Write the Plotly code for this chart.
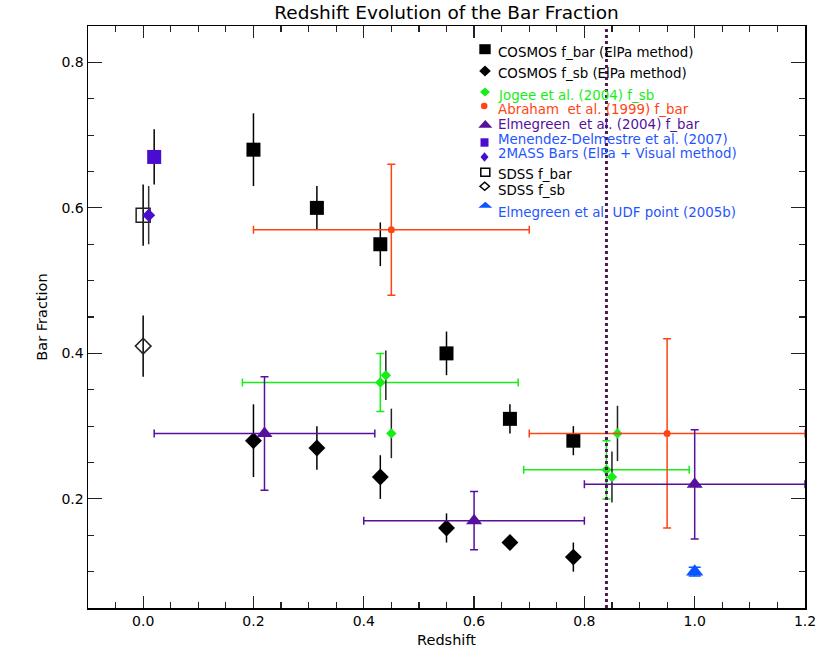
import plotly.graph_objects as go

# ---------------- data ----------------
cosmos_z = [0.20, 0.315, 0.43, 0.55, 0.665, 0.78]
cosmos_fbar = [0.68, 0.60, 0.55, 0.40, 0.31, 0.28]
cosmos_fbar_err = [0.05, 0.03, 0.03, 0.03, 0.02, 0.02]
cosmos_fsb = [0.28, 0.27, 0.23, 0.16, 0.14, 0.12]
cosmos_fsb_err = [0.05, 0.03, 0.03, 0.02, 0.01, 0.02]

jogee_z = [0.43, 0.84]
jogee_fsb = [0.36, 0.24]
jogee_zerr = [0.25, 0.15]
jogee_err = [0.04, 0.04]

jogee2_z = [0.44, 0.45, 0.85, 0.86]
jogee2_fsb = [0.37, 0.29, 0.23, 0.29]
jogee2_err = [0.034, 0.034, 0.035, 0.038]

abraham_z = [0.45, 0.95]
abraham_fbar = [0.57, 0.29]
abraham_zerr = [0.25, 0.25]
abraham_err = [0.09, 0.13]

elm_z = [0.22, 0.60, 1.00]
elm_fbar = [0.29, 0.17, 0.22]
elm_zerr = [0.20, 0.20, 0.20]
elm_err = [0.078, 0.04, 0.075]

menendez_z = [0.02]
menendez_fbar = [0.67]
menendez_err = [0.038]

twomass_z = [0.01]
twomass_fsb = [0.59]
twomass_err = [0.04]

sdss_z = [0.0]
sdss_fbar = [0.59]
sdss_fbar_err = [0.042]
sdss_fsb = [0.41]
sdss_fsb_err = [0.042]

udf_z = [1.0]
udf_fbar = [0.10]
udf_err = [0.006]

z_cut = 0.84

x_ticks = [0.0, 0.2, 0.4, 0.6, 0.8, 1.0, 1.2]
y_ticks = [0.2, 0.4, 0.6, 0.8]

# ---------------- colours ----------------
GREEN = "#16ee16"
ORANGE = "#ff4414"
PURPLE = "#56109c"
VIOLET = "#4a0ccf"
BLUE = "#1f55ff"
UDFBLUE = "#0b55ff"
DOTC = "#4d1a50"

FONT = "DejaVu Sans"

# ---------------- layout geometry (px) ----------------
W, H = 830, 664
L, R, T, B = 88, 25, 26, 56
PW, PH = W - L - R, H - T - B


def px(xp):
    return (xp - L) / PW


def py(yp):
    return (H - B - yp) / PH


fig = go.Figure()


def err(arr, color, cap=0, width=1.5):
    return dict(type="data", array=arr, color=color, thickness=width, width=cap, visible=True)


fig.add_trace(go.Scatter(
    x=cosmos_z, y=cosmos_fbar, mode="markers",
    marker=dict(symbol="square", size=14, color="black", line=dict(width=0)),
    error_y=err(cosmos_fbar_err, "black"), name="COSMOS f_bar (ElPa method)"))
fig.add_trace(go.Scatter(
    x=cosmos_z, y=cosmos_fsb, mode="markers",
    marker=dict(symbol="diamond", size=13, color="black", line=dict(width=0)),
    error_y=err(cosmos_fsb_err, "black"), name="COSMOS f_sb (ElPa method)"))

fig.add_trace(go.Scatter(
    x=jogee_z, y=jogee_fsb, mode="markers",
    marker=dict(symbol="diamond", size=8, color=GREEN, line=dict(width=0)),
    error_y=err(jogee_err, GREEN, cap=4), error_x=err(jogee_zerr, GREEN, cap=4),
    name="Jogee et al. (2004) f_sb"))
fig.add_trace(go.Scatter(
    x=jogee2_z, y=jogee2_fsb, mode="markers",
    marker=dict(symbol="diamond", size=8, color=GREEN, line=dict(width=0)),
    error_y=err(jogee2_err, "#222222"), name="Jogee et al. (2004) f_sb (2)"))

fig.add_trace(go.Scatter(
    x=abraham_z, y=abraham_fbar, mode="markers",
    marker=dict(symbol="circle", size=7, color=ORANGE, line=dict(width=0)),
    error_y=err(abraham_err, ORANGE, cap=4), error_x=err(abraham_zerr, ORANGE, cap=4),
    name="Abraham et al. (1999) f_bar"))

fig.add_trace(go.Scatter(
    x=elm_z, y=elm_fbar, mode="markers",
    marker=dict(symbol="triangle-up", size=14, color=PURPLE, line=dict(width=0)),
    error_y=err(elm_err, PURPLE, cap=4), error_x=err(elm_zerr, PURPLE, cap=4),
    name="Elmegreen et al. (2004) f_bar"))

fig.add_trace(go.Scatter(
    x=menendez_z, y=menendez_fbar, mode="markers",
    marker=dict(symbol="square", size=14, color=VIOLET, line=dict(width=0)),
    error_y=err(menendez_err, "black"), name="Menendez-Delmestre et al. (2007)"))

fig.add_trace(go.Scatter(
    x=sdss_z, y=sdss_fbar, mode="markers",
    marker=dict(symbol="square-open", size=14, color="#222222", line=dict(width=1.5)),
    error_y=err(sdss_fbar_err, "black"), name="SDSS f_bar"))
fig.add_trace(go.Scatter(
    x=twomass_z, y=twomass_fsb, mode="markers",
    marker=dict(symbol="diamond", size=10, color=VIOLET, line=dict(width=0)),
    error_y=err(twomass_err, "#333333"), name="2MASS Bars"))
fig.add_trace(go.Scatter(
    x=sdss_z, y=sdss_fsb, mode="markers",
    marker=dict(symbol="diamond-open", size=12, color="#222222", line=dict(width=1.5)),
    error_y=err(sdss_fsb_err, "black"), name="SDSS f_sb"))

fig.add_trace(go.Scatter(
    x=udf_z, y=udf_fbar, mode="markers",
    marker=dict(symbol="triangle-up", size=15, color=UDFBLUE, line=dict(width=0)),
    error_y=err(udf_err, UDFBLUE, cap=6), name="Elmegreen et al. UDF point (2005b)"))

shapes = []
# vertical dotted line
shapes.append(dict(type="line", xref="x", yref="paper", x0=z_cut, x1=z_cut, y0=0, y1=1,
                   line=dict(color=DOTC, width=3, dash="dot"), layer="above"))


# ---------------- hand-drawn legend ----------------
def rect(cx, cy, hw, hh, fill, line=None):
    shapes.append(dict(type="rect", xref="paper", yref="paper",
                       x0=px(cx - hw), x1=px(cx + hw), y0=py(cy + hh), y1=py(cy - hh),
                       fillcolor=fill if fill else "rgba(0,0,0,0)",
                       line=dict(color=line if line else "rgba(0,0,0,0)", width=1.5 if line else 0),
                       layer="above"))


def poly(pts, fill, line=None):
    path = "M " + " L ".join(f"{px(a):.5f},{py(b):.5f}" for a, b in pts) + " Z"
    shapes.append(dict(type="path", xref="paper", yref="paper", path=path,
                       fillcolor=fill if fill else "rgba(0,0,0,0)",
                       line=dict(color=line if line else "rgba(0,0,0,0)", width=1.5 if line else 0),
                       layer="above"))


def diamond(cx, cy, hw, hh, fill, line=None):
    poly([(cx - hw, cy), (cx, cy - hh), (cx + hw, cy), (cx, cy + hh)], fill, line)


def tri(cx, top, bottom, hw, fill):
    poly([(cx - hw, bottom), (cx, top), (cx + hw, bottom)], fill)


def circ(cx, cy, r, fill):
    shapes.append(dict(type="circle", xref="paper", yref="paper",
                       x0=px(cx - r), x1=px(cx + r), y0=py(cy + r), y1=py(cy - r),
                       fillcolor=fill, line=dict(width=0), layer="above"))


rect(485, 49.2, 5.7, 5.0, "black")
diamond(485, 71, 5.8, 5.4, "black")
diamond(485, 92, 5.0, 4.4, GREEN)
circ(484.2, 106, 3.3, ORANGE)
tri(485.3, 120, 127.7, 7.0, PURPLE)
rect(484.5, 142.5, 4.0, 4.2, VIOLET)
diamond(484.5, 157, 4.0, 4.7, VIOLET)
rect(485.3, 172.3, 4.5, 4.0, None, "black")
diamond(484.7, 186.3, 4.7, 4.0, None, "black")
tri(485.3, 201.7, 207.7, 7.0, UDFBLUE)

legend_entries = [
    ("COSMOS f_bar (ElPa method)", "black", 51.7),
    ("COSMOS f_sb (ElPa method)", "black", 73.3),
    ("Jogee et al. (2004) f_sb", GREEN, 95.3),
    ("Abraham  et al. (1999) f_bar", ORANGE, 109.3),
    ("Elmegreen  et al. (2004) f_bar", PURPLE, 124.3),
    ("Menendez-Delmestre et al. (2007)", BLUE, 138.7),
    ("2MASS Bars (ElPa + Visual method)", BLUE, 153.3),
    ("SDSS f_bar", "black", 174.3),
    ("SDSS f_sb", "black", 189.7),
    ("Elmegreen et al. UDF point (2005b)", BLUE, 211.7),
]

annotations = []
for txt, col, yy in legend_entries:
    annotations.append(dict(text=txt.replace("  ", "&nbsp; "), xref="paper", yref="paper",
                            x=px(496), y=py(yy + 0.5), xanchor="left", yanchor="middle",
                            showarrow=False, font=dict(family=FONT, size=13.4, color=col)))

axis_common = dict(
    showline=True, linecolor="black", linewidth=1.5, mirror="allticks",
    ticks="inside", tickcolor="#222222", tickwidth=1.2,
    showgrid=False, zeroline=False,
    tickfont=dict(family=FONT, size=14, color="black"),
)

fig.update_layout(
    width=W, height=H,
    margin=dict(l=L, r=R, t=T, b=B, pad=0),
    paper_bgcolor="white", plot_bgcolor="white",
    showlegend=False,
    title=dict(text="Redshift Evolution of the Bar Fraction", x=(L + PW / 2) / W, xanchor="center",
               y=1 - 13 / H, yanchor="middle", font=dict(family=FONT, size=18.5, color="black")),
    xaxis=dict(range=[-0.1, 1.2], tickvals=x_ticks, ticktext=[f"{v:.1f}" for v in x_ticks],
               ticklen=12, minor=dict(dtick=0.05, tick0=0, ticks="inside", ticklen=6, tickcolor="#222222", tickwidth=1.2),
               title=dict(text="Redshift", font=dict(family=FONT, size=14.5, color="black"), standoff=6),
               **axis_common),
    yaxis=dict(range=[0.05, 0.85], tickvals=y_ticks, ticktext=[f"{v:.1f}" for v in y_ticks],
               ticklen=14, minor=dict(dtick=0.05, tick0=0, ticks="inside", ticklen=6, tickcolor="#222222", tickwidth=1.2),
               title=dict(text="Bar Fraction", font=dict(family=FONT, size=14.5, color="black"), standoff=10),
               **axis_common),
    shapes=shapes,
    annotations=annotations,
)

fig.write_html("out.html", config={"displayModeBar": False, "staticPlot": True},
               post_script="document.body.style.margin='0';document.body.style.overflow='hidden';")
